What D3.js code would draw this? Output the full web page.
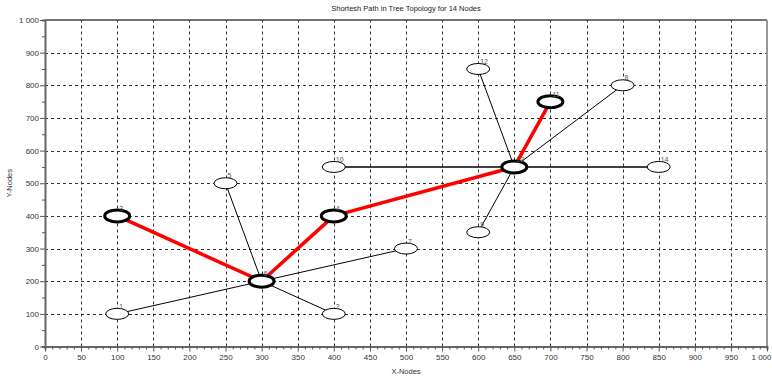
<!DOCTYPE html>
<html>
<head>
<meta charset="utf-8">
<script src="https://cdn.jsdelivr.net/npm/d3@7"></script>
<style>
  body { margin: 0; background: #fff; }
  svg { display: block; font-family: "Liberation Sans", Arial, sans-serif; }
</style>
</head>
<body>
<div id="chart"></div>
<script>
// node data
var nodeIds = [1, 2, 3, 4, 5, 6, 7, 8, 9, 10, 11, 12, 13, 14];
var nodeX = [100, 400, 100, 400, 250, 300, 500, 800, 600, 400, 700, 600, 650, 850];
var nodeY = [100, 100, 400, 400, 500, 200, 300, 800, 350, 550, 750, 850, 550, 550];

// tree links (from, to)
var edges = [[6, 1], [6, 2], [6, 5], [6, 7], [13, 10], [13, 14], [13, 9], [13, 12], [13, 8]];
// shortest path 3 -> 11
var pathNodes = [3, 6, 4, 13, 11];

var xTicks = d3.range(0, 1001, 50);
var yTicks = d3.range(0, 1001, 100);

var width = 772, height = 377;
var margin = { top: 20, right: 5, bottom: 30, left: 45 };

var x = d3.scaleLinear().domain([0, 1000]).range([margin.left, width - margin.right]);
var y = d3.scaleLinear().domain([0, 1000]).range([height - margin.bottom - 0.5, margin.top]);

var fmt = function (d) { return d >= 1000 ? "1 000" : String(d); };

var svg = d3.select("#chart").append("svg")
  .attr("width", width)
  .attr("height", height);

// grid
var grid = svg.append("g").attr("stroke", "#333").attr("stroke-dasharray", "3,3").attr("stroke-width", 1);
grid.selectAll("line.v").data(xTicks.filter(function (d) { return d > 0 && d < 1000; })).enter()
  .append("line")
  .attr("x1", function (d) { return Math.round(x(d)) + 0.5; })
  .attr("x2", function (d) { return Math.round(x(d)) + 0.5; })
  .attr("y1", y(0)).attr("y2", y(1000));
grid.selectAll("line.h").data(yTicks.filter(function (d) { return d > 0 && d < 1000; })).enter()
  .append("line")
  .attr("y1", function (d) { return Math.round(y(d)) + 0.5; })
  .attr("y2", function (d) { return Math.round(y(d)) + 0.5; })
  .attr("x1", x(0)).attr("x2", x(1000));

// frame
svg.append("line").attr("x1", x(0)).attr("x2", x(1000)).attr("y1", y(1000)).attr("y2", y(1000))
  .attr("stroke", "#444").attr("stroke-width", 1.5);
svg.append("line").attr("x1", x(1000)).attr("x2", x(1000)).attr("y1", y(1000)).attr("y2", y(0))
  .attr("stroke", "#999").attr("stroke-width", 2);

// axes
var xAxis = svg.append("g")
  .attr("transform", "translate(0," + y(0) + ")")
  .call(d3.axisBottom(x).tickValues(d3.range(0, 1001, 10)).tickSize(3)
    .tickFormat(function (d) { return d % 50 === 0 ? fmt(d) : ""; }));
xAxis.selectAll(".tick line").attr("y2", function (d) { return d % 50 === 0 ? 5 : 3; });
var yAxis = svg.append("g")
  .attr("transform", "translate(" + x(0) + ",0)")
  .call(d3.axisLeft(y).tickValues(d3.range(0, 1001, 50)).tickSize(3)
    .tickFormat(function (d) { return d % 100 === 0 ? fmt(d) : ""; }));
yAxis.selectAll(".tick line").attr("x2", function (d) { return d % 100 === 0 ? -5 : -3; });

svg.selectAll(".domain").attr("stroke", "#666").attr("stroke-width", 2);
svg.selectAll(".tick line").attr("stroke", "#555");
svg.selectAll(".tick text").attr("fill", "#333").style("font-size", "8px");
xAxis.selectAll(".tick text").attr("y", 8);
// last x label would run past the right edge, pull it inside
xAxis.selectAll(".tick text").filter(function (d) { return d === 1000; })
  .attr("text-anchor", "end").attr("x", width - x(1000) - 1);
yAxis.selectAll(".tick text").attr("x", -6);

// titles
svg.append("text").attr("x", 406).attr("y", 11).attr("text-anchor", "middle")
  .attr("fill", "#222").style("font-size", "7.5px").text("Shortesh Path in Tree Topology for 14 Nodes");
svg.append("text").attr("x", 406).attr("y", 374).attr("text-anchor", "middle")
  .attr("fill", "#333").style("font-size", "7.5px").text("X-Nodes");
svg.append("text").attr("transform", "translate(12," + y(500) + ") rotate(-90)").attr("text-anchor", "middle")
  .attr("fill", "#333").style("font-size", "7.5px").text("Y-Nodes");

function px(id) { return x(nodeX[id - 1]); }
function py(id) { return y(nodeY[id - 1]); }

// edges
svg.append("g").selectAll("line").data(edges).enter().append("line")
  .attr("x1", function (d) { return px(d[0]); })
  .attr("y1", function (d) { return py(d[0]); })
  .attr("x2", function (d) { return px(d[1]); })
  .attr("y2", function (d) { return py(d[1]); })
  .attr("stroke", "#000")
  .attr("stroke-width", function (d) { return nodeY[d[0] - 1] === nodeY[d[1] - 1] ? 1.5 : 1; });

var pathEdges = d3.pairs(pathNodes);
svg.append("g").selectAll("line").data(pathEdges).enter().append("line")
  .attr("x1", function (d) { return px(d[0]); })
  .attr("y1", function (d) { return py(d[0]); })
  .attr("x2", function (d) { return px(d[1]); })
  .attr("y2", function (d) { return py(d[1]); })
  .attr("stroke", "#ff0000")
  .attr("stroke-width", 3.5);

// nodes
var nodes = svg.append("g").selectAll("g").data(nodeIds).enter().append("g")
  .attr("transform", function (d) { return "translate(" + px(d) + "," + py(d) + ")"; });
nodes.append("ellipse")
  .attr("rx", function (d) { return pathNodes.indexOf(d) >= 0 ? 12.5 : 11.5; })
  .attr("ry", function (d) { return pathNodes.indexOf(d) >= 0 ? 6 : 5.5; })
  .attr("fill", "#fff")
  .attr("stroke", "#000")
  .attr("stroke-width", function (d) { return pathNodes.indexOf(d) >= 0 ? 3 : 1; });
nodes.append("text")
  .attr("x", 2).attr("y", -5)
  .attr("fill", "#555")
  .style("font-size", "7px")
  .text(function (d) { return d; });
</script>
</body>
</html>
